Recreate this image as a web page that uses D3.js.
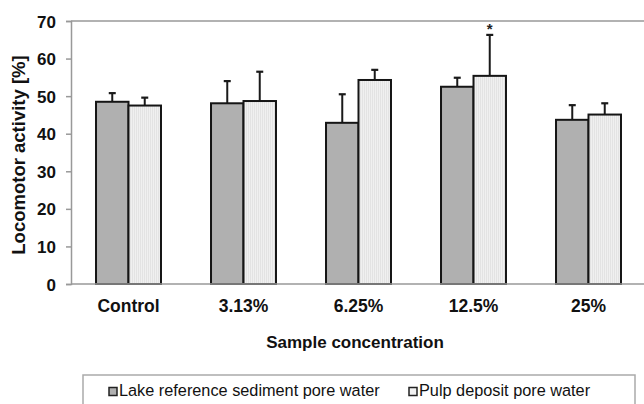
<!DOCTYPE html>
<html>
<head>
<meta charset="utf-8">
<script src="https://cdn.jsdelivr.net/npm/d3@7"></script>
<style>
    body { margin: 0; background: #fff; }
    text { font-family: "Liberation Sans", Arial, sans-serif; }
</style>
</head>
<body>
<div id="chart"></div>
<script>
var categories = ["Control", "3.13%", "6.25%", "12.5%", "25%"];
var seriesNames = ["Lake reference sediment pore water", "Pulp deposit pore water"];
var lakeValues = [48.5, 48.1, 42.9, 52.5, 43.7];
var lakeErrors = [2.3, 5.9, 7.6, 2.4, 3.9];
var pulpValues = [47.5, 48.7, 54.3, 55.4, 45.1];
var pulpErrors = [2.1, 7.8, 2.7, 10.9, 3.0];
var yTicks = [0, 10, 20, 30, 40, 50, 60, 70];
// marker above bars that differ significantly
var significant = [{ cat: "12.5%", series: 1 }];

var width = 644, height = 404;
var plotLeft = 71, plotRight = 646, plotTop = 21, plotBottom = 284;

var svg = d3.select("#chart")
    .append("svg")
    .attr("width", width)
    .attr("height", height);

// light bars have a fine vertical stripe fill
var defs = svg.append("defs");
var pat = defs.append("pattern")
    .attr("id", "stripes")
    .attr("patternUnits", "userSpaceOnUse")
    .attr("width", 2)
    .attr("height", 4);
pat.append("rect").attr("width", 2).attr("height", 4).attr("fill", "#f0f0f0");
pat.append("rect").attr("width", 1).attr("height", 4).attr("fill", "#e3e3e3");

var x = d3.scaleBand()
    .domain(categories)
    .range([plotLeft, plotRight])
    .paddingInner(0.435)
    .paddingOuter(0.2175);

var xSub = d3.scaleBand()
    .domain([0, 1])
    .range([0, x.bandwidth()]);

var y = d3.scaleLinear()
    .domain([0, 70])
    .range([plotBottom, plotTop]);

// plot frame: top, left and bottom lines
svg.append("line")
    .attr("x1", plotLeft).attr("x2", width)
    .attr("y1", y(70)).attr("y2", y(70))
    .attr("stroke", "#999").attr("stroke-width", 1.5);

var yAxis = svg.append("g")
    .attr("transform", "translate(" + plotLeft + ",0)")
    .call(d3.axisLeft(y).tickValues(yTicks).tickSize(5).tickPadding(10));
yAxis.select(".domain").attr("stroke", "#999").attr("stroke-width", 1.5);
yAxis.selectAll(".tick line").attr("stroke", "#999").attr("stroke-width", 1.5);
yAxis.selectAll(".tick text")
    .attr("fill", "#111")
    .attr("font-size", "17px")
    .attr("font-weight", "bold")
    .attr("dy", "0.36em")
    .style("font-family", "'Liberation Sans', Arial, sans-serif");

var series = [
    { values: lakeValues, errors: lakeErrors, fill: "#b0b0b0" },
    { values: pulpValues, errors: pulpErrors, fill: "url(#stripes)" }
];

series.forEach(function (s, si) {
    var g = svg.append("g");
    // error bars first, bar outline drawn over them
    g.selectAll("line.err")
        .data(categories)
        .enter()
        .append("line")
        .attr("class", "err")
        .attr("x1", function (d) { return x(d) + xSub(si) + xSub.bandwidth() / 2; })
        .attr("x2", function (d) { return x(d) + xSub(si) + xSub.bandwidth() / 2; })
        .attr("y1", function (d, i) { return y(s.values[i]); })
        .attr("y2", function (d, i) { return y(s.values[i] + s.errors[i]); })
        .attr("stroke", "#1a1a1a")
        .attr("stroke-width", 2);
    g.selectAll("line.cap")
        .data(categories)
        .enter()
        .append("line")
        .attr("class", "cap")
        .attr("x1", function (d) { return x(d) + xSub(si) + xSub.bandwidth() / 2 - 3.5; })
        .attr("x2", function (d) { return x(d) + xSub(si) + xSub.bandwidth() / 2 + 3.5; })
        .attr("y1", function (d, i) { return y(s.values[i] + s.errors[i]); })
        .attr("y2", function (d, i) { return y(s.values[i] + s.errors[i]); })
        .attr("stroke", "#1a1a1a")
        .attr("stroke-width", 2.2);
    g.selectAll("rect")
        .data(categories)
        .enter()
        .append("rect")
        .attr("x", function (d) { return x(d) + xSub(si); })
        .attr("y", function (d, i) { return y(s.values[i]); })
        .attr("width", xSub.bandwidth())
        .attr("height", function (d, i) { return y(0) - y(s.values[i]); })
        .attr("fill", s.fill)
        .attr("stroke", "#151515")
        .attr("stroke-width", 2);
});

// bottom axis line, no ticks
svg.append("line")
    .attr("x1", plotLeft).attr("x2", width)
    .attr("y1", y(0)).attr("y2", y(0))
    .attr("stroke", "#999").attr("stroke-width", 1.5);

significant.forEach(function (m) {
    var i = categories.indexOf(m.cat);
    var s = series[m.series];
    svg.append("text")
        .attr("x", x(m.cat) + xSub(m.series) + xSub.bandwidth() / 2)
        .attr("y", y(s.values[i] + s.errors[i]) - 1)
        .attr("text-anchor", "middle")
        .attr("font-size", "15px")
        .attr("font-weight", "bold")
        .attr("fill", "#222")
        .text("*");
});

// category labels
svg.append("g")
    .selectAll("text")
    .data(categories)
    .enter()
    .append("text")
    .attr("x", function (d) { return x(d) + x.bandwidth() / 2; })
    .attr("y", 312)
    .attr("text-anchor", "middle")
    .attr("font-size", "17.5px")
    .attr("font-weight", "bold")
    .attr("fill", "#111")
    .text(function (d) { return d; });

svg.append("text")
    .attr("x", 355)
    .attr("y", 348)
    .attr("text-anchor", "middle")
    .attr("font-size", "17px")
    .attr("font-weight", "bold")
    .attr("fill", "#111")
    .text("Sample concentration");

svg.append("text")
    .attr("transform", "translate(25,155) rotate(-90)")
    .attr("text-anchor", "middle")
    .attr("font-size", "18.5px")
    .attr("font-weight", "bold")
    .attr("fill", "#111")
    .text("Locomotor activity [%]");

// legend
var legend = svg.append("g");
legend.append("rect")
    .attr("x", 83)
    .attr("y", 375)
    .attr("width", 552)
    .attr("height", 40)
    .attr("fill", "#fff")
    .attr("stroke", "#aaa")
    .attr("stroke-width", 1.5);

var legendX = [109, 409];
seriesNames.forEach(function (name, i) {
    legend.append("rect")
        .attr("x", legendX[i])
        .attr("y", 387.5)
        .attr("width", 8)
        .attr("height", 8)
        .attr("fill", i === 0 ? "#b0b0b0" : "#f1f1f1")
        .attr("stroke", "#222")
        .attr("stroke-width", 1.5);
    legend.append("text")
        .attr("x", legendX[i] + 10)
        .attr("y", 396)
        .attr("font-size", "16.3px")
        .attr("fill", "#111")
        .text(name);
});
</script>
</body>
</html>
